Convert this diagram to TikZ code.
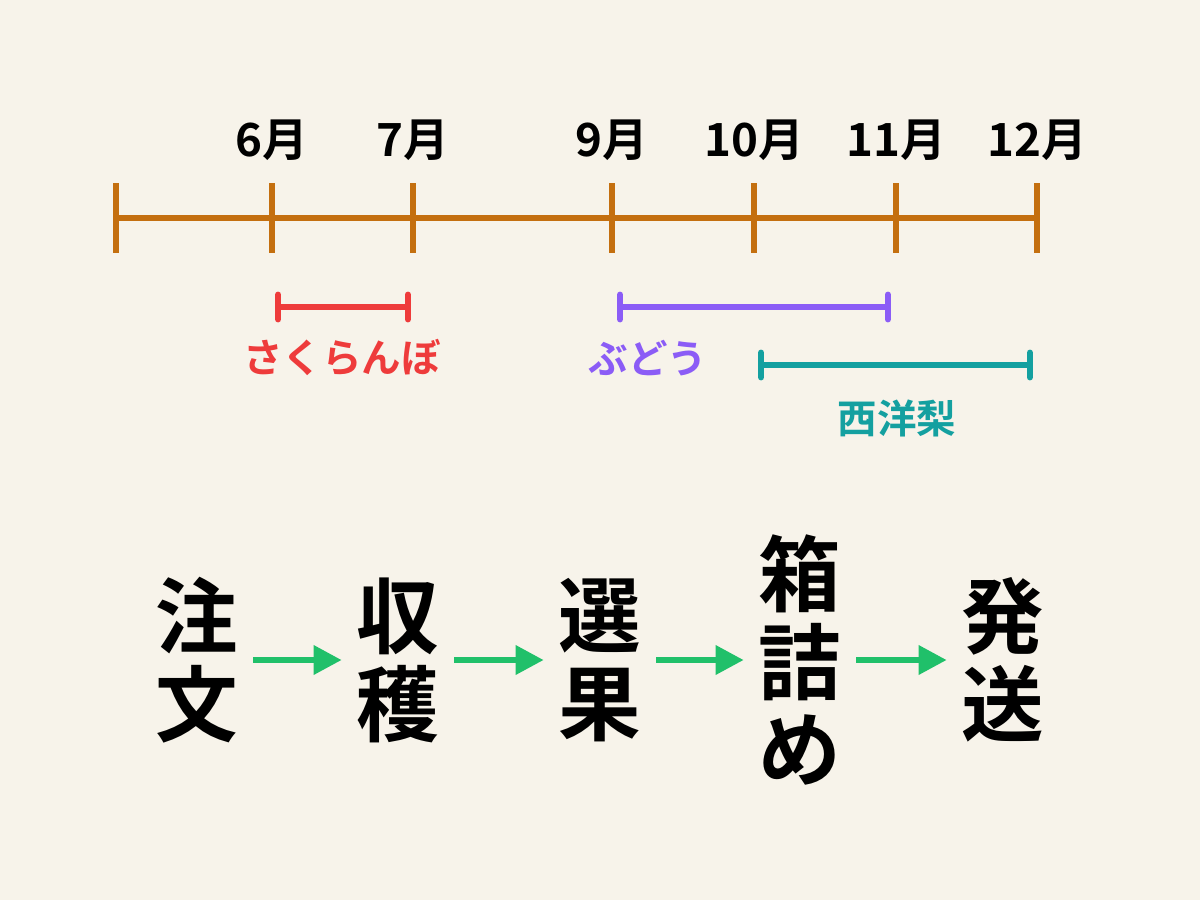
\documentclass[tikz,border=0pt]{standalone}
\usepackage{fontspec}
\setmainfont{Noto Sans CJK JP}[BoldFont={Noto Sans CJK JP Bold}]
\usetikzlibrary{arrows.meta}
\definecolor{bg}{HTML}{F7F3EA}
\definecolor{tl}{HTML}{C46F0F}
\definecolor{cred}{HTML}{EE3B3B}
\definecolor{cpur}{HTML}{8B5CF6}
\definecolor{cteal}{HTML}{14A0A0}
\definecolor{cgrn}{HTML}{20C06A}
\begin{document}
\begin{tikzpicture}[x=0.02cm,y=-0.02cm,
  mon/.style={font=\bfseries\fontsize{26}{30}\selectfont},
  lab/.style={font=\bfseries\fontsize{22.5}{26}\selectfont},
  big/.style={font=\bfseries\fontsize{47}{50}\selectfont,align=center},
  fl/.style={line width=3.6pt,-{Triangle[length=16pt,width=16pt]},cgrn},
  bar/.style={line width=3.6pt,{Bar[width=14pt,round]}-{Bar[width=14pt,round]}}]
\fill[bg] (0,0) rectangle (1200,900);
\draw[tl,line width=3.8pt] (116,218) -- (1037,218);
\foreach \x/\t in {116/,272/6月,413/7月,612/9月,754/10月,896/11月,1037/12月}{
  \draw[tl,line width=3.8pt] (\x,183) -- (\x,253);
  \node[mon] at (\x,140) {\t};}
\draw[bar,cred] (275,307) -- (411,307);
\node[lab,text=cred] at (342,358) {さくらんぼ};
\draw[bar,cpur] (617,307) -- (891,307);
\node[lab,text=cpur] at (648,358) {ぶどう};
\draw[bar,cteal] (758,365) -- (1033,365);
\node[lab,text=cteal] at (897,418) {西洋梨};
\node[big] (a) at (197,660) {注\\文};
\node[big] (b) at (398,660) {収\\穫};
\node[big] (c) at (600,660) {選\\果};
\node[big] (d) at (800,660) {箱\\詰\\め};
\node[big] (e) at (1003,660) {発\\送};
\draw[fl] ([xshift=5]a.east) -- ([xshift=-5]b.west);
\draw[fl] ([xshift=5]b.east) -- ([xshift=-5]c.west);
\draw[fl] ([xshift=5]c.east) -- ([xshift=-5]d.west);
\draw[fl] ([xshift=5]d.east) -- ([xshift=-5]e.west);
\end{tikzpicture}
\end{document}
